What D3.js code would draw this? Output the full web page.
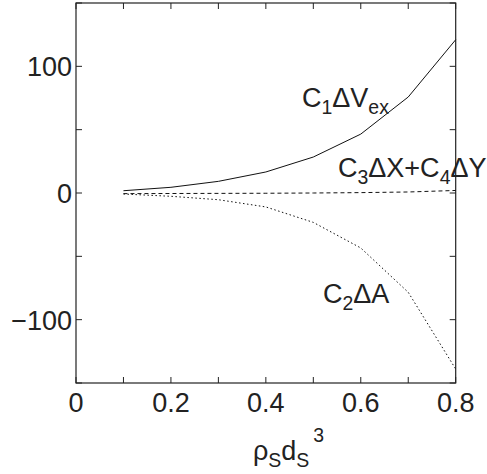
<!DOCTYPE html>
<html><head><meta charset="utf-8">
<script src="https://cdn.jsdelivr.net/npm/d3@7"></script>
<style>body{margin:0;background:#fff}svg{display:block}text{font-family:"Liberation Sans",Arial,Helvetica,sans-serif;fill:#222}</style>
</head><body><svg id="c" width="487" height="474"></svg>
<script>
const xs = [0.1,0.2,0.3,0.4,0.5,0.6,0.7,0.8];
const c1dVex = [1.8,4.5,9.2,16.6,28.4,46.5,75.8,121];
const c2dA = [-0.8,-2.6,-5.3,-11,-23.2,-43.4,-78.4,-139];
const c3dXc4dY = [-0.5,-0.4,-0.3,-0.2,0,0.3,0.8,2];
const xTickLabels = [0,0.2,0.4,0.6,0.8];
const yTickLabels = [-100,0,100];

const svg = d3.select("#c");
const L=76,R=455.7,T=3,B=383;
const x = d3.scaleLinear().domain([0,0.8]).range([L,R]);
const y = d3.scaleLinear().domain([-150,150]).range([B,T]);
const tk=6;
const g = svg.append("g");
// frame
g.append("rect").attr("x",L).attr("y",T).attr("width",R-L).attr("height",B-T).attr("fill","none").attr("stroke","#222").attr("stroke-width",1.2);
// ticks
const xt = d3.range(0,0.81,0.1), yt = d3.range(-150,151,50);
xt.forEach(v=>{
  g.append("line").attr("x1",x(v)).attr("x2",x(v)).attr("y1",B).attr("y2",B-tk).attr("stroke","#222");
  g.append("line").attr("x1",x(v)).attr("x2",x(v)).attr("y1",T).attr("y2",T+tk).attr("stroke","#222");
});
yt.forEach(v=>{
  g.append("line").attr("x1",L).attr("x2",L+tk).attr("y1",y(v)).attr("y2",y(v)).attr("stroke","#222");
  g.append("line").attr("x1",R).attr("x2",R-tk).attr("y1",y(v)).attr("y2",y(v)).attr("stroke","#222");
});
const fs=27;
xTickLabels.forEach(v=>{
  g.append("text").attr("x",x(v)).attr("y",412).attr("text-anchor","middle").attr("font-size",fs).text(v===0?"0":v.toFixed(1));
});
yTickLabels.forEach(v=>{
  g.append("text").attr("x",72).attr("y",y(v)+10).attr("text-anchor","end").attr("font-size",fs).text(v<0?"\u2212"+Math.abs(v):String(v));
});
// lines
const line = d3.line().x(d=>x(d[0])).y(d=>y(d[1]));
g.append("path").datum(xs.map((v,i)=>[v,c1dVex[i]])).attr("d",line).attr("fill","none").attr("stroke","#111").attr("stroke-width",1);
g.append("path").datum(xs.map((v,i)=>[v,c3dXc4dY[i]])).attr("d",line).attr("fill","none").attr("stroke","#111").attr("stroke-width",1).attr("stroke-dasharray","4,3");
g.append("path").datum(xs.map((v,i)=>[v,c2dA[i]])).attr("d",line).attr("fill","none").attr("stroke","#111").attr("stroke-width",1).attr("stroke-dasharray","1.5,2.5");
// labels
function lab(px,py,parts){
  const t=g.append("text").attr("x",px).attr("y",py).attr("font-size",fs);
  parts.forEach(p=>{
    const s=t.append("tspan").text(p[0]);
    if(p[1]==="sub"){s.attr("font-size",fs*0.72).attr("dy",7);}
    else if(p[1]==="sup"){s.attr("font-size",fs*0.72).attr("dy",-17);}
    else if(p[1]==="back"){s.attr("dy",-7);}
    else if(p[1]==="backsup"){s.attr("dy",17);}
  });
}
lab(302,107,[["C"],["1","sub"],["ΔV","back"],["ex","sub"]]);
lab(338,177,[["C"],["3","sub"],["ΔX+C","back"],["4","sub"],["ΔY","back"]]);
lab(323,303,[["C"],["2","sub"],["ΔA","back"]]);
// axis label
const al=g.append("text").attr("x",253).attr("y",460).attr("font-size",fs);
al.append("tspan").text("ρ");
al.append("tspan").text("S").attr("font-size",fs*0.72).attr("dy",7);
al.append("tspan").text("d").attr("dy",-7);
al.append("tspan").text("S").attr("font-size",fs*0.72).attr("dy",7);
al.append("tspan").text("3").attr("font-size",fs*0.72).attr("dy",-25).attr("dx",4);
</script></body></html>
